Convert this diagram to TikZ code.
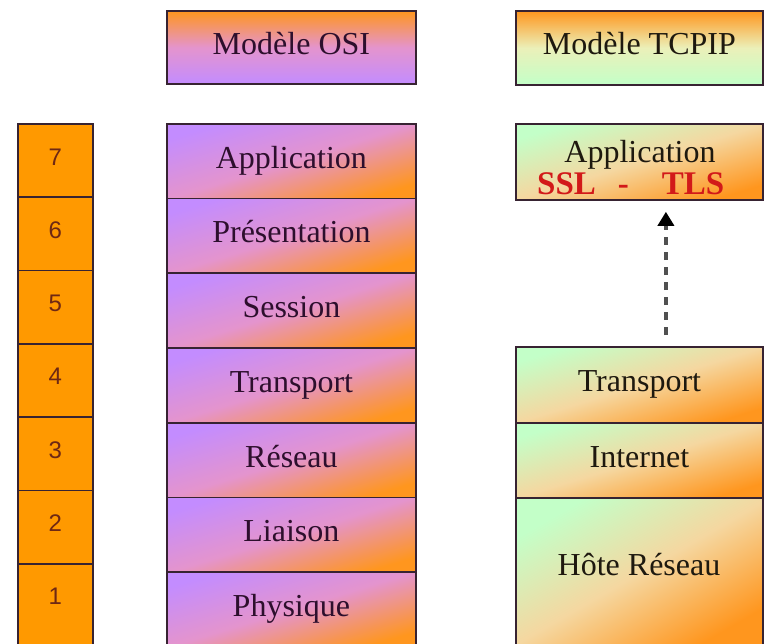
\documentclass[tikz,border=0pt]{standalone}
\usepackage{fontspec}
\setmainfont{Liberation Serif}
\newfontfamily\digitfont{Liberation Sans}
\usetikzlibrary{arrows.meta}
\definecolor{edgecol}{RGB}{55,35,50}
\definecolor{lvorange}{RGB}{255,153,0}
\definecolor{osipurple}{RGB}{195,140,255}
\definecolor{osipink}{RGB}{228,148,205}
\definecolor{osiorange}{RGB}{255,150,30}
\definecolor{tcpgreen}{RGB}{195,255,200}
\definecolor{tcppeach}{RGB}{245,215,160}
\definecolor{tcpyellow}{RGB}{235,240,185}
\definecolor{digitcol}{RGB}{110,40,20}
\definecolor{ositext}{RGB}{45,15,45}
\definecolor{tcptext}{RGB}{30,25,15}
\definecolor{sslred}{RGB}{210,25,25}
\definecolor{arrowgray}{RGB}{80,80,80}
\begin{document}
\begin{tikzpicture}[x=1pt,y=-1pt,
 box/.style={draw=edgecol, line width=1.8pt, anchor=north west, inner sep=0pt,
   text height=22pt, text depth=8pt, font=\fontsize{32}{38}\selectfont},
 numrow/.style={box, fill=lvorange, minimum width=75pt, minimum height=73.3pt,
   text=digitcol, text height=17pt, text depth=8pt, font=\digitfont\fontsize{24}{28}\selectfont},
 osirow/.style={box, minimum width=249pt, minimum height=74.7pt, text=ositext,
   top color=osipurple, bottom color=osiorange, middle color=osipink, shading angle=17},
 osihead/.style={box, minimum width=249pt, minimum height=73pt, text=ositext,
   top color=osiorange, bottom color=osipurple, middle color=osipink},
 tcphead/.style={box, minimum width=247pt, minimum height=74pt, text=tcptext,
   top color=osiorange, bottom color=tcpgreen, middle color=tcpyellow},
 tcprow/.style={box, minimum width=247pt, text=tcptext,
   top color=tcpgreen, bottom color=osiorange, middle color=tcppeach, shading angle=17},
 tcplabel/.style={anchor=base, inner sep=0pt, text=tcptext, font=\fontsize{32}{38}\selectfont},
 ssllabel/.style={anchor=base west, inner sep=0pt, text=sslred, font=\bfseries\fontsize{33}{40}\selectfont},
 flowarrow/.style={draw=arrowgray, line width=3.4pt, dash pattern=on 8pt off 7pt,
   -{Triangle[width=16pt,length=14pt,color=black]}}
]
\useasboundingbox (0,0) rectangle (765,644);
\clip (0,0) rectangle (765,644);
\fill[white] (0,0) rectangle (765,644);

% headers
\node[osihead] (osihd) at (166,10) {Modèle OSI};
\node[tcphead] (tcphd) at (515,10) {Modèle TCPIP};

% layer numbers
\node[numrow] (n7) at (17,123.0) {7};
\node[numrow] (n6) at (17,196.3) {6};
\node[numrow] (n5) at (17,269.6) {5};
\node[numrow] (n4) at (17,342.9) {4};
\node[numrow] (n3) at (17,416.2) {3};
\node[numrow] (n2) at (17,489.5) {2};
\node[numrow, minimum height=90pt, text depth=25pt] (n1) at (17,562.8) {1};

% OSI layers
\node[osirow] (osi7) at (166,123.0) {Application};
\node[osirow] (osi6) at (166,197.7) {Présentation};
\node[osirow] (osi5) at (166,272.4) {Session};
\node[osirow] (osi4) at (166,347.1) {Transport};
\node[osirow] (osi3) at (166,421.8) {Réseau};
\node[osirow] (osi2) at (166,496.5) {Liaison};
\node[osirow] (osi1) at (166,571.2) {Physique};

% TCP/IP layers
\node[tcprow, minimum height=76pt] (tapp) at (515,123) {};
\node[tcplabel] (tapptext) at (640,163) {Application};
\node[ssllabel] (ssltext) at (537,195) {SSL\hspace{22pt}-\hspace{33pt}TLS};

\node[tcprow, minimum height=76pt] (ttrans) at (515,346) {Transport};
\node[tcprow, minimum height=75pt] (tinet) at (515,422) {Internet};
\node[tcprow, minimum height=150pt, shading angle=30] (thost) at (515,497) {};
\node[tcplabel] (thosttext) at (639,575) {Hôte Réseau};

% arrow
\draw[flowarrow, shorten <=11pt, shorten >=11pt]
  ([xshift=26.5pt]ttrans.north) -- ([xshift=26.5pt]tapp.south);
\end{tikzpicture}
\end{document}
